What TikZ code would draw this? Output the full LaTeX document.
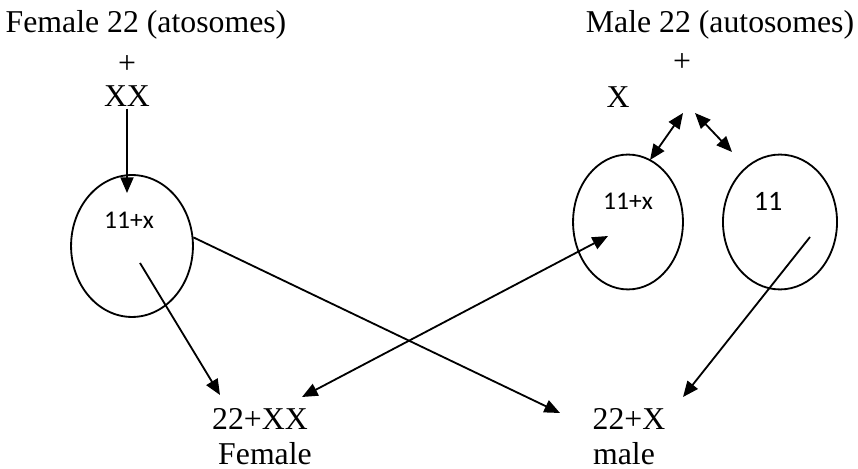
\documentclass[tikz,border=0pt]{standalone}
\usepackage{fontspec}
\setmainfont{Liberation Serif}
\newfontfamily\cellfont{Carlito}
\usepackage{tikz}
\usetikzlibrary{shapes.geometric,arrows.meta}
\tikzset{
	defaultstyle/.style={
		>={Triangle[length=6pt,width=5pt]},
		line width=0.7pt,
		x=0.384pt,
		y=-0.384pt}}

\begin{document}
\begin{tikzpicture}[defaultstyle,
	txt/.style={inner sep=0.5pt, font=\fontsize{12.2}{14}\selectfont},
	cell/.style={draw, ellipse, inner sep=0pt},
	celltxt/.style={inner sep=0pt, font=\cellfont\fontsize{9.8}{11}\selectfont},
	]
	\useasboundingbox (0,0) rectangle (858,469);

	% female side
	\node[txt] (fhead) at (146,25) {Female 22 (atosomes)};
	\node[txt] (fplus) at (127,65) {+};
	\node[txt] (fxx) at (127,96) {XX};
	\node[cell, minimum width=46.8pt, minimum height=54.5pt] (fcell) at (132,246) {};
	\node[celltxt] (fcelltxt) at (129,220) {11+x};

	% male side
	\node[txt] (mhead) at (720,25) {Male 22 (autosomes)};
	\node[txt] (mplus) at (682,63) {+};
	\node[txt] (mx) at (618,97) {X};
	\node[cell, minimum width=42.2pt, minimum height=51.8pt] (mcella) at (628,222) {};
	\node[celltxt] (mcellatxt) at (628,201) {11+x};
	\node[cell, minimum width=43.8pt, minimum height=51.8pt] (mcellb) at (780,222) {};
	\node[celltxt, font=\cellfont\fontsize{10.8}{12}\selectfont] (mcellbtxt) at (768,201) {11};

	% offspring
	\node[txt] (kidf) at (260,419) {22+XX};
	\node[txt] (kidftxt) at (265,454) {Female};
	\node[txt] (kidm) at (629,419) {22+X};
	\node[txt] (kidmtxt) at (624,454) {male};

	% ends of the connectors
	\coordinate (fin) at (127,193);
	\coordinate (fout) at (140,263);
	\coordinate (kidfa) at (220,395);
	\coordinate (kidfb) at (302,397);
	\coordinate (kidma) at (560,413);
	\coordinate (kidmb) at (683,397);
	\coordinate (min) at (608,236);
	\coordinate (mout) at (810,237);
	\coordinate (msplit) at (650,160);
	\coordinate (mtopa) at (683,113);
	\coordinate (mtopb) at (695,113);
	\coordinate (msplitb) at (732,152);

	\draw[->] (fxx) -- (fin);
	\draw[->] (fout) -- (kidfa);
	\draw[->] (fcell.8) -- (kidma);
	\draw[<->] (kidfb) -- (min);
	\draw[->] (mout) -- (kidmb);
	\draw[<->] (msplit) -- (mtopa);
	\draw[<->] (mtopb) -- (msplitb);

\end{tikzpicture}
\end{document}
